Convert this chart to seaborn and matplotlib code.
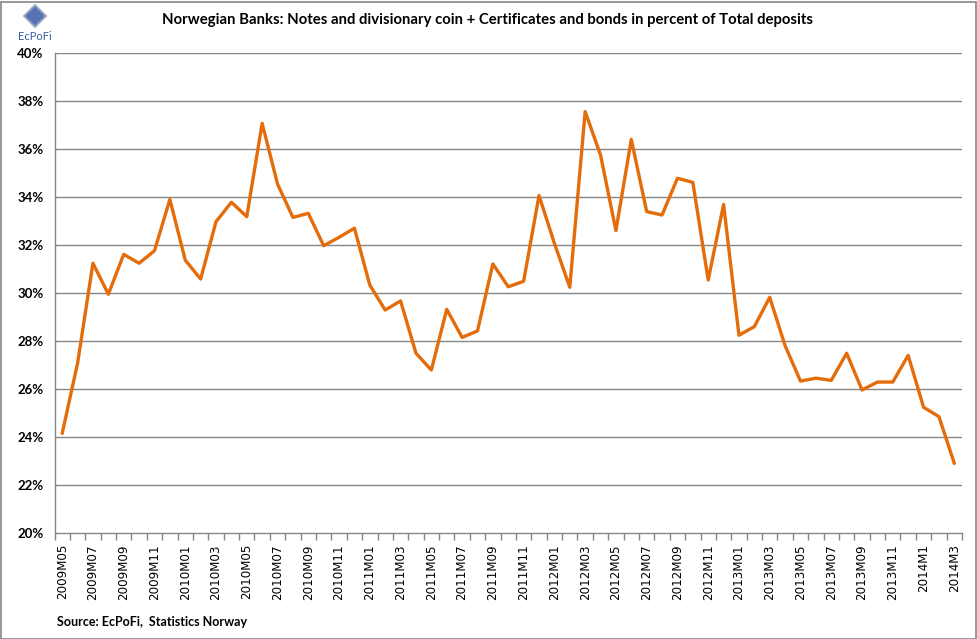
import numpy as np
import pandas as pd
import matplotlib
matplotlib.use("Agg")
import matplotlib.pyplot as plt
import seaborn as sns
from matplotlib.patches import Rectangle, Polygon
from matplotlib.ticker import FixedLocator, FuncFormatter

# ---- data ----
months = (
    [f"2009M{m:02d}" for m in range(5, 13)]
    + [f"{y}M{m:02d}" for y in (2010, 2011, 2012, 2013) for m in range(1, 13)]
    + ["2014M1", "2014M2", "2014M3"]
)
share_pct = [
    24.15, 27.07, 31.24, 29.95, 31.61, 31.24, 31.76, 33.90,
    31.37, 30.58, 32.97, 33.78, 33.18, 37.07, 34.54, 33.15, 33.32, 31.97, 32.32, 32.70,
    30.33, 29.29, 29.67, 27.49, 26.79, 29.32, 28.15, 28.42, 31.21, 30.26, 30.49, 34.06,
    32.07, 30.24, 37.56, 35.75, 32.60, 36.40, 33.39, 33.25, 34.78, 34.61, 30.54, 33.69,
    28.24, 28.60, 29.82, 27.80, 26.33, 26.45, 26.36, 27.49, 25.96, 26.29, 26.29, 27.40,
    25.24, 24.85, 22.90,
]
y_ticks = [20, 22, 24, 26, 28, 30, 32, 34, 36, 38, 40]
title = "Norwegian Banks: Notes and divisionary coin + Certificates and bonds in percent of Total deposits"
source = "Source: EcPoFi,  Statistics Norway"

df = pd.DataFrame({"month": months, "pos": np.arange(len(months)), "share": share_pct})

# ---- figure ----
sns.set_theme(style="white")
plt.rcParams["font.family"] = ["Lato", "DejaVu Sans"]

W, H = 977, 639
fig = plt.figure(figsize=(W / 100, H / 100), dpi=100)
ax = fig.add_axes([54.5 / W, 1 - 533 / H, (962 - 54.5) / W, (533 - 53) / H])

grid_c = "#868686"
for v in y_ticks[1:]:
    ax.axhline(v, color=grid_c, lw=1.0, zorder=1)

sns.lineplot(data=df, x="pos", y="share", ax=ax, color="#E46C0A", lw=2.4,
             zorder=3, legend=False)

ax.set_xlim(-0.5, len(months) - 0.5)
ax.set_ylim(20, 40)
ax.set_xlabel("")
ax.set_ylabel("")

for s in ("top", "right"):
    ax.spines[s].set_visible(False)
for s in ("left", "bottom"):
    ax.spines[s].set_color(grid_c)
    ax.spines[s].set_linewidth(1.0)

# y axis
ax.set_yticks(y_ticks)
ax.yaxis.set_major_formatter(FuncFormatter(lambda v, p: f"{int(v)}%"))
ax.tick_params(axis="y", length=5, width=1, color=grid_c, pad=3, labelsize=9.5)
for lab in ax.get_yticklabels():
    lab.set_fontweight("bold")
    lab.set_color("black")

# x axis: labels every 2 months at category centres, tick marks at boundaries
lab_pos = list(range(0, len(months), 2))
ax.set_xticks(lab_pos)
ax.set_xticklabels([months[i] for i in lab_pos], rotation=90, fontsize=8.6,
                   family="DejaVu Sans", color="black")
ax.tick_params(axis="x", which="major", length=0, pad=8)
ax.xaxis.set_minor_locator(FixedLocator(np.arange(-0.5, len(months), 1.0)))
ax.tick_params(axis="x", which="minor", length=5, width=1, color=grid_c,
               bottom=True)

# title and source
fig.text(488 / W, 1 - 20 / H, title, ha="center", va="center",
         fontsize=10.7, fontweight="bold", color="black")
fig.text(57 / W, 1 - 622 / H, source, ha="left", va="center",
         fontsize=9, fontweight="bold", color="black")

# logo
logo_c = "#3A5BA8"
fig.patches.append(Polygon([[35 / W, 1 - 5 / H], [46 / W, 1 - 16 / H],
                            [35 / W, 1 - 27 / H], [24 / W, 1 - 16 / H]],
                           closed=True, transform=fig.transFigure,
                           facecolor=logo_c, edgecolor="#9aa7c8", lw=1.5,
                           alpha=0.85))
fig.text(35 / W, 1 - 36 / H, "EcPoFi", ha="center", va="center",
         fontsize=8, color=logo_c)

# chart border
fig.patches.append(Rectangle((0.5 / W, 0.5 / H), (W - 2) / W, (H - 2) / H,
                             transform=fig.transFigure, fill=False,
                             edgecolor=grid_c, lw=1.2))

fig.savefig("out.png", dpi=100)
